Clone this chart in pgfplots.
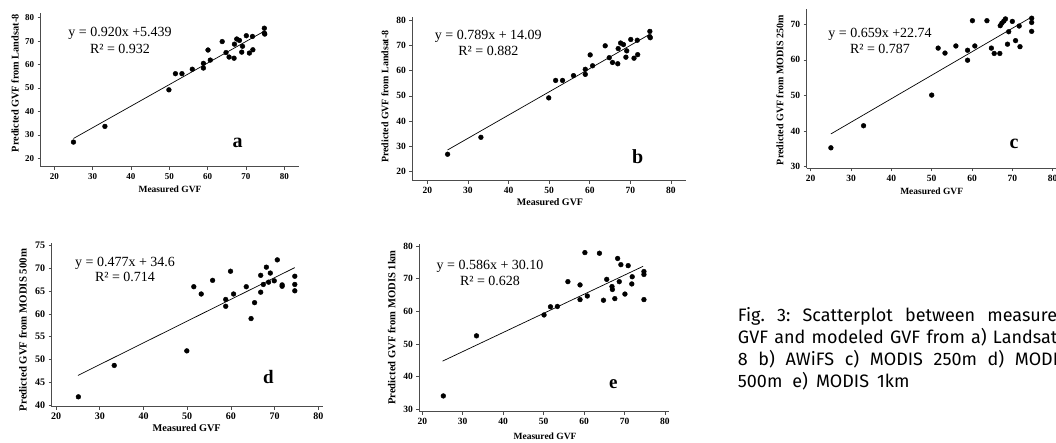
\documentclass[border=0pt]{standalone}
\usepackage{fontspec}
\setmainfont{Liberation Serif}
\newfontfamily\capfont{Fira Sans}
\usepackage{pgfplots}
\usepackage{pgfplotstable}
\pgfplotsset{compat=1.18}

\pgfplotstableread{
x y
25.0 26.9
33.2 33.6
49.9 49.2
51.6 56.1
53.3 56.1
56.0 58.0
58.9 60.5
58.9 58.5
60.1 66.2
60.7 61.9
63.8 69.8
64.8 65.1
65.6 63.2
66.9 62.7
67.0 68.7
67.6 70.9
68.3 70.3
68.9 65.3
69.1 67.8
70.1 72.3
70.9 64.9
71.7 72.0
71.8 66.3
74.8 75.5
74.8 73.4
74.9 73.0
}\landsat

\pgfplotstableread{
x y
25.0 35.3
33.1 41.5
50.0 50.1
51.6 63.3
53.3 61.9
56.0 63.9
58.9 62.7
58.9 59.9
60.1 71.0
60.7 63.9
63.7 71.0
64.8 63.3
65.5 61.8
66.9 61.8
67.0 69.6
67.4 70.3
67.9 70.9
68.3 71.5
68.8 64.4
69.1 67.9
70.0 70.8
70.8 65.4
71.7 69.5
71.9 63.7
74.8 71.7
74.8 70.5
74.8 68.0
}\modisA

\pgfplotstableread{
x y
25.1 41.8
33.3 48.7
49.9 51.9
51.5 66.0
53.2 64.4
55.8 67.4
58.8 63.2
58.8 61.7
59.9 69.4
60.6 64.4
63.5 66.0
64.6 59.0
65.4 62.5
66.8 68.5
66.8 64.8
67.4 66.5
68.1 70.3
68.6 67.0
69.0 69.0
69.9 67.3
70.6 71.9
71.7 66.4
71.7 66.1
74.6 68.3
74.6 66.5
74.6 65.1
}\modisB

\pgfplotstableread{
x y
25.2 34.1
33.4 52.5
50.1 58.9
51.7 61.4
53.4 61.5
56.0 69.1
59.0 68.1
59.0 63.6
60.2 78.0
60.8 64.7
63.8 77.8
64.8 63.4
65.6 69.8
66.9 67.6
67.0 66.7
67.6 63.9
68.3 76.2
68.7 69.1
69.1 74.3
70.1 65.3
70.9 74.0
71.9 70.6
71.8 68.4
74.8 72.2
74.8 71.3
74.8 63.6
}\modisC

\pgfplotsset{
  gvf/.style={
    scale only axis,
    anchor=south west,
    axis x line*=bottom, axis y line*=left,
    axis line style={-, black!70, line width=0.6pt},
    every tick/.style={black!70, line width=0.6pt},
    tick align=outside,
    major tick length=3pt,
    xtick={20,30,...,80},
    /pgf/number format/assume math mode=true,
    clip=false,
  },
  dots/.style={only marks, mark=*, mark size=2.4pt, black},
  fit/.style={black, line width=0.7pt, no marks},
}

\newcommand\eqn[1]{\fontsize{14}{16}\selectfont #1}
\newcommand\lbl[1]{\bfseries\fontsize{#1}{#1}\selectfont}

\begin{document}
\begin{tikzpicture}

% a
\begin{axis}[gvf, at={(40.7pt,276.3pt)}, width=258.3pt, height=153.7pt,
  xmin=16.45, xmax=83.84, ymin=16.4, ymax=82.0, ytick={20,30,...,80},
  ticklabel style={font=\lbl{9}}]
  \addplot[dots] table {\landsat};
  \addplot[fit] coordinates {(25,28.44) (74.6,74.07)};
\end{axis}

% b
\begin{axis}[gvf, at={(412.3pt,262.3pt)}, width=273.7pt, height=163.2pt,
  xmin=16.31, xmax=83.7, ymin=16.44, ymax=81.0, ytick={20,30,...,80},
  ticklabel style={font=\lbl{9.5}}]
  \addplot[dots] table {\landsat};
  \addplot[fit] coordinates {(25,28.6) (74.6,74.2)};
\end{axis}

% c
\begin{axis}[gvf, at={(806.7pt,274.7pt)}, width=254.0pt, height=159.0pt,
  xmin=19.0, xmax=82, ymin=29.55, ymax=74.2, ytick={30,40,...,70},
  ticklabel style={font=\lbl{9.5}}]
  \addplot[dots] table {\modisA};
  \addplot[fit] coordinates {(25,39.2) (74.6,71.9)};
\end{axis}

% d
\begin{axis}[gvf, at={(51.7pt,36.3pt)}, width=271.3pt, height=163.2pt,
  xmin=19.0, xmax=81.05, ymin=39.63, ymax=75.5, ytick={40,45,...,75},
  ticklabel style={font=\lbl{10}}]
  \addplot[dots] table {\modisB};
  \addplot[fit] coordinates {(25,46.5) (74.6,70.2)};
\end{axis}

% e
\begin{axis}[gvf, at={(419.3pt,31.3pt)}, width=249.7pt, height=167.6pt,
  xmin=19.26, xmax=81.0, ymin=29.27, ymax=80.6, ytick={30,40,...,80},
  ticklabel style={font=\lbl{9.5}}]
  \addplot[dots] table {\modisC};
  \addplot[fit] coordinates {(25,44.75) (74.6,73.8)};
\end{axis}

% equations and panel letters
\path[every node/.style={anchor=base, inner sep=0pt}]
  (120pt,406.3pt) node {\eqn{y = 0.920x +5.439}}
  (120pt,389.7pt) node {\eqn{R² = 0.932}}
  (237.7pt,295.7pt) node {\lbl{20}a}
  (488.3pt,403.7pt) node {\eqn{y = 0.789x + 14.09}}
  (488.3pt,387pt) node {\eqn{R² = 0.882}}
  (637.7pt,279.7pt) node {\lbl{20}b}
  (880pt,405.3pt) node {\eqn{y = 0.659x +22.74}}
  (880pt,389pt) node {\eqn{R² = 0.787}}
  (1014pt,294pt) node {\lbl{20}c}
  (125pt,176.3pt) node {\eqn{y = 0.477x + 34.6}}
  (125pt,161.3pt) node {\eqn{R² = 0.714}}
  (268.3pt,59pt) node {\lbl{19}d}
  (490pt,173.7pt) node {\eqn{y = 0.586x + 30.10}}
  (490pt,157pt) node {\eqn{R² = 0.628}}
  (613.3pt,54.7pt) node {\lbl{19}e};

% axis titles
\path[every node/.style={anchor=base, inner sep=0pt}]
  (170pt,250.7pt) node {\lbl{9.5}Measured GVF}
  (550pt,237pt) node {\lbl{10}Measured GVF}
  (931.7pt,248pt) node {\lbl{9.5}Measured GVF}
  (186.7pt,11.5pt) node {\lbl{10.3}Measured GVF}
  (545pt,3pt) node {\lbl{9.5}Measured GVF};
\path[every node/.style={anchor=center, inner sep=0pt, rotate=90}]
  (15pt,359.7pt) node {\lbl{10.3}Predicted GVF from Landsat-8}
  (385pt,346.3pt) node {\lbl{9.9}Predicted GVF from Landsat-8}
  (780pt,353pt) node {\lbl{10}Predicted GVF from MODIS 250m}
  (23pt,113pt) node {\lbl{10.8}Predicted GVF from MODIS 500m}
  (391.7pt,115.5pt) node {\lbl{10.6}Predicted GVF from MODIS 1km};

% caption, justified lines running past the right edge as in the original
\path[every node/.style={anchor=base west, inner sep=0pt,
    font=\capfont\fontsize{18}{22}\selectfont}]
  (737.7pt,121.5pt) node {\hbox to 330pt{Fig.\hfil 3:\hfil Scatterplot\hfil between\hfil measured}}
  (737.7pt,99.6pt) node {\hbox to 326pt{GVF\hfil and\hfil modeled\hfil GVF\hfil from\hfil a)\hfil Landsat-}}
  (737.7pt,77.7pt) node {\hbox to 330pt{8\hfil b)\hfil AWiFS\hfil c)\hfil MODIS\hfil 250m\hfil d)\hfil MODIS}}
  (737.7pt,55.8pt) node {500m\hskip 10pt e)\hskip 8pt MODIS\hskip 8pt 1km};

\pgfresetboundingbox
\path[use as bounding box] (0,0) rectangle (1056pt,443pt);
\end{tikzpicture}
\end{document}
